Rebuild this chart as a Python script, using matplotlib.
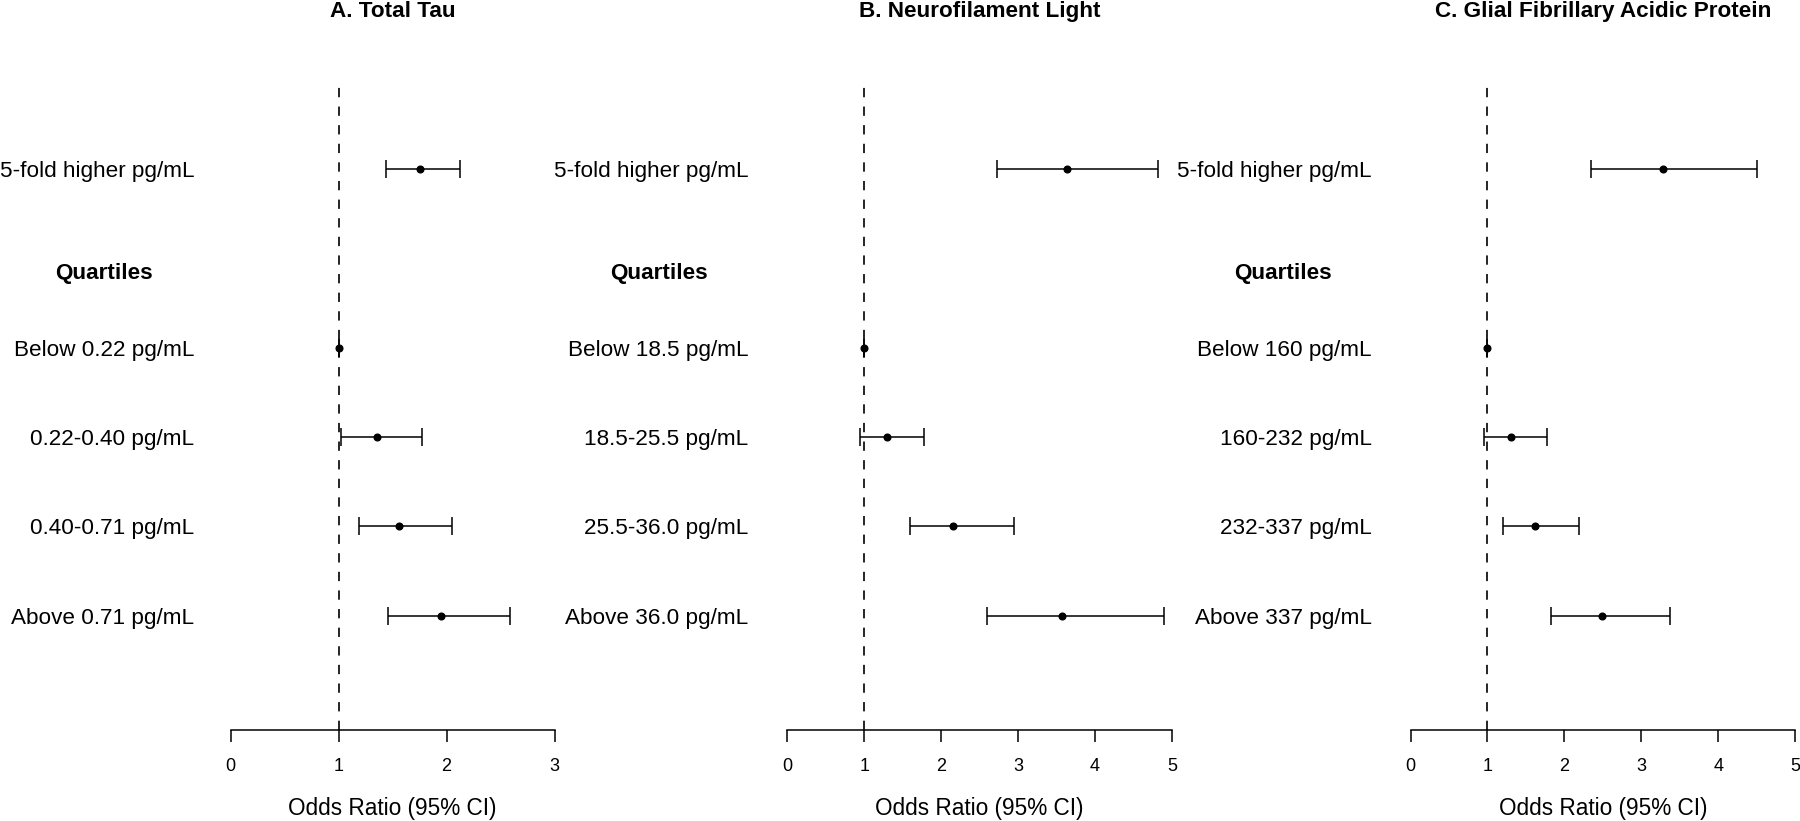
import numpy as np
import matplotlib
matplotlib.use("Agg")
import matplotlib.pyplot as plt

plt.rcParams['font.family'] = ['Liberation Sans', 'DejaVu Sans']
plt.rcParams['lines.scale_dashes'] = False

titles = ["A. Total Tau", "B. Neurofilament Light", "C. Glial Fibrillary Acidic Protein"]
labels_a = ["5-fold higher pg/mL", "Below 0.22 pg/mL", "0.22-0.40 pg/mL", "0.40-0.71 pg/mL", "Above 0.71 pg/mL"]
labels_b = ["5-fold higher pg/mL", "Below 18.5 pg/mL", "18.5-25.5 pg/mL", "25.5-36.0 pg/mL", "Above 36.0 pg/mL"]
labels_c = ["5-fold higher pg/mL", "Below 160 pg/mL", "160-232 pg/mL", "232-337 pg/mL", "Above 337 pg/mL"]

# odds ratios and 95% CI (lower, upper)
or_a = [1.75, 1.00, 1.36, 1.56, 1.95]
lo_a = [1.44, 1.00, 1.02, 1.19, 1.46]
hi_a = [2.12, 1.00, 1.77, 2.05, 2.59]

or_b = [3.64, 1.00, 1.29, 2.16, 3.57]
lo_b = [2.72, 1.00, 0.94, 1.60, 2.59]
hi_b = [4.82, 1.00, 1.78, 2.95, 4.89]

or_c = [3.28, 1.00, 1.31, 1.62, 2.49]
lo_c = [2.34, 1.00, 0.96, 1.20, 1.83]
hi_c = [4.50, 1.00, 1.78, 2.19, 3.37]

xmax = [3, 5, 5]
rows = [5, 3, 2, 1, 0]
header_row = 3.83

panels = [
    (labels_a, or_a, lo_a, hi_a),
    (labels_b, or_b, lo_b, hi_b),
    (labels_c, or_c, lo_c, hi_c),
]

# axes placement in pixels (left, right) of a 1800 px wide figure
ax_px = [(230.5, 554.6), (787.3, 1172.0), (1410.5, 1795.2)]
label_pad = [36.5, 39.0, 38.8]
header_off = [-126.8, -128.8, -127.5]

fig = plt.figure(figsize=(18, 8.21), dpi=100)
W, H = 1800.0, 821.0
y0, y1 = -1.28, 6.5
bottom = (H - 730.0) / H
height = (y1 - y0) * 89.3 / H
fs = 16.2

for i, (labs, est, lo, hi) in enumerate(panels):
    l, r = ax_px[i]
    ax = fig.add_axes([l / W, bottom, (r - l) / W, height])
    est = np.array(est)
    lo = np.array(lo)
    hi = np.array(hi)
    ax.vlines(1, y0, 5.92, colors="black", linestyles=(0, (6.7, 6.7)), linewidth=1.2, clip_on=False)
    ax.errorbar(est, rows, xerr=[est - lo, hi - est], fmt="o", color="black",
                ms=4.8, elinewidth=1.1, capsize=6.7, capthick=1.1, clip_on=False)
    ax.set_xlim(0, xmax[i])
    ax.set_ylim(y0, y1)
    ax.set_xticks(range(xmax[i] + 1))
    ax.set_yticks(rows)
    ax.set_yticklabels(labs, fontsize=fs)
    ax.tick_params(axis="y", length=0, pad=label_pad[i] * 0.72)
    ax.tick_params(axis="x", length=8.3, width=1.1, pad=11.5, labelsize=13)
    for s in ["top", "right", "left"]:
        ax.spines[s].set_visible(False)
    ax.spines["bottom"].set_linewidth(1.1)
    ax.annotate("Quartiles", xy=(0, header_row), xycoords=("axes fraction", "data"),
                xytext=(header_off[i] * 0.72, 0), textcoords="offset points",
                ha="center", va="center", fontsize=fs, fontweight="bold")
    ax.annotate("Odds Ratio (95% CI)", xy=(0.5, H - 808.3), xycoords=("axes fraction", "figure pixels"),
                ha="center", va="center", fontsize=16.3)
    fig.text((l + r) / 2 / W, 1 - 11.5 / H, titles[i], ha="center", va="center",
             fontsize=fs, fontweight="bold")

fig.savefig("out.png", dpi=100)
